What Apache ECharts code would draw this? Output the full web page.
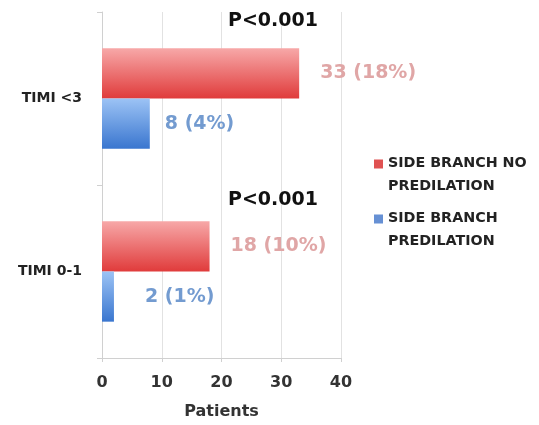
<!DOCTYPE html>
<html><head><meta charset="utf-8">
<script src="https://cdn.jsdelivr.net/npm/echarts@6/dist/echarts.min.js"></script>
<style>html,body{margin:0;padding:0;background:#fff}#c{width:539px;height:425px}</style>
</head><body><div id="c"></div>
<script>
var categories = ['TIMI 0-1', 'TIMI <3'];
var noPredilation = [18, 33];
var predilation = [2, 8];
var noPredLabels = ['18 (10%)', '33 (18%)'];
var predLabels = ['2 (1%)', '8 (4%)'];
var pValues = ['P<0.001', 'P<0.001'];
var xTicks = [0, 10, 20, 30, 40];

var FONT = '"DejaVu Sans", sans-serif';
var chart = echarts.init(document.getElementById('c'));
function grad(c1, c2) {
  return new echarts.graphic.LinearGradient(0, 0, 0, 1, [{offset: 0, color: c1}, {offset: 1, color: c2}]);
}
// label spacing per bar (layout only)
var predDist = [31, 15];
var pOffset = [-71, -77];
// legend square aligned with first text line
var legendIcon = 'path://M0,0h9v9h-9z M0,31h0.05v0.05h-0.05z';
chart.setOption({
  animation: false,
  textStyle: {fontFamily: FONT},
  grid: {left: 102, right: 198, top: 12, bottom: 65},
  legend: {
    orient: 'vertical', left: 369, top: 147, itemWidth: 9, itemHeight: 31.05, itemGap: 9, icon: legendIcon,
    data: [
      {name: 'SIDE BRANCH NO\nPREDILATION', itemStyle: {color: '#e05252'}},
      {name: 'SIDE BRANCH\nPREDILATION', itemStyle: {color: '#6690d4'}}
    ],
    textStyle: {fontFamily: FONT, fontSize: 14.3, fontWeight: 'bold', color: '#222', lineHeight: 23}
  },
  xAxis: {
    type: 'value', min: xTicks[0], max: xTicks[xTicks.length - 1], interval: 10,
    name: 'Patients', nameLocation: 'middle', nameGap: 46,
    nameTextStyle: {fontFamily: FONT, fontSize: 16, fontWeight: 'bold', color: '#333'},
    axisLine: {show: true, lineStyle: {color: '#d0d0d0'}},
    axisTick: {show: true, length: 4, lineStyle: {color: '#d0d0d0'}},
    splitLine: {show: true, lineStyle: {color: '#e2e2e2'}},
    axisLabel: {fontFamily: FONT, fontSize: 16, fontWeight: 'bold', color: '#333', margin: 17}
  },
  yAxis: {
    type: 'category', data: categories,
    axisLine: {show: true, lineStyle: {color: '#d0d0d0'}},
    axisTick: {show: true, length: 5, lineStyle: {color: '#d0d0d0'}},
    axisLabel: {fontFamily: FONT, fontSize: 14, fontWeight: 'bold', color: '#222', margin: 20}
  },
  series: [
    {
      name: 'SIDE BRANCH NO\nPREDILATION', type: 'bar', data: noPredilation,
      barGap: '0%', barCategoryGap: '42%',
      itemStyle: {color: grad('#f7a8a8', '#e03b3b')},
      label: {show: true, position: 'right', distance: 21, fontFamily: FONT, fontSize: 19, fontWeight: 'bold', color: '#e0a6a6',
        formatter: function (p) { return noPredLabels[p.dataIndex]; }}
    },
    {
      name: 'SIDE BRANCH\nPREDILATION', type: 'bar',
      data: predilation.map(function (v, i) { return {value: v, label: {distance: predDist[i]}}; }),
      barGap: '0%', barCategoryGap: '42%',
      itemStyle: {color: grad('#9cc3f5', '#3a76cf')},
      label: {show: true, position: 'right', fontFamily: FONT, fontSize: 19, fontWeight: 'bold', color: '#739bd0',
        formatter: function (p) { return predLabels[p.dataIndex]; }}
    }
  ]
});
// P-value annotations above each category band
var g = [];
categories.forEach(function (c, i) {
  var pt = chart.convertToPixel({gridIndex: 0}, [0, c]);
  g.push({type: 'text', x: 228, y: pt[1] + pOffset[i], style: {text: pValues[i], fontFamily: FONT, fontSize: 19, fontWeight: 'bold', fill: '#111', verticalAlign: 'middle'}});
});
chart.setOption({graphic: g});
</script>
</body></html>
